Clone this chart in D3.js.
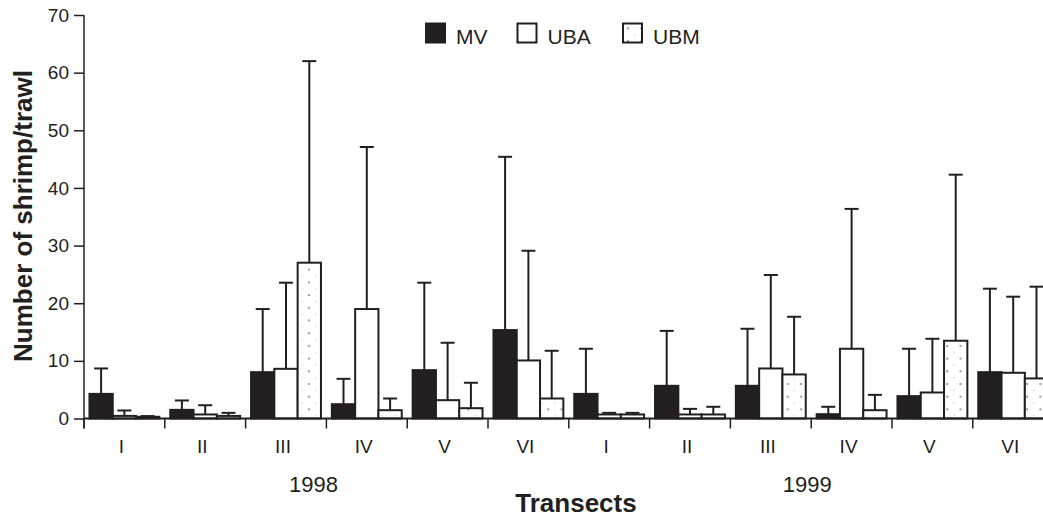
<!DOCTYPE html>
<html><head><meta charset="utf-8">
<script src="https://cdn.jsdelivr.net/npm/d3@7"></script>
<style>
html,body{margin:0;padding:0;background:#fff;}
svg text{font-family:"Liberation Sans",Arial,Helvetica,sans-serif;fill:#231f20;}
</style></head>
<body><svg id="c" width="1043" height="520"></svg>
<script>
const transects = ["I","II","III","IV","V","VI","I","II","III","IV","V","VI"];
const years = ["1998","1999"];
const series = ["MV","UBA","UBM"];
const mv     = [4.27,1.5,8.04,2.48,8.39,15.34,4.27,5.67,5.67,0.75,3.88,8.04];
const mvUp   = [8.68,3.13,18.99,6.88,23.56,45.4,12.1,15.2,15.57,2.03,12.1,22.52];
const uba    = [0.45,0.7,8.62,18.99,3.18,10.07,0.7,0.7,8.68,12.1,4.51,7.93];
const ubaUp  = [1.39,2.3,23.56,47.1,13.14,29.1,0.98,1.67,24.9,36.36,13.83,21.13];
const ubm    = [0.3,0.45,27.03,1.44,1.79,3.47,0.7,0.7,7.64,1.44,13.49,6.95];
const ubmUp  = [0.42,0.98,62.0,3.47,6.2,11.75,0.98,2.03,17.65,4.1,42.3,22.87];
const yTicks = [0,10,20,30,40,50,60,70];

const ink = "#231f20";
const svg = d3.select("#c");
const defs = svg.append("defs");
const pat = defs.append("pattern").attr("id","dots").attr("patternUnits","userSpaceOnUse")
  .attr("width",13.3).attr("height",12.7);
pat.append("rect").attr("width",13.3).attr("height",12.7).attr("fill","#fff");
pat.append("circle").attr("cx",3).attr("cy",3).attr("r",1.1).attr("fill","#8a8a8a");
pat.append("circle").attr("cx",9.65).attr("cy",9.35).attr("r",0.6).attr("fill","#aaa");

const keys = transects.map((d,i)=>i);
const x0 = d3.scaleBand().domain(keys).range([84, 84 + 12*80.8]).padding(0);
const x1 = d3.scaleBand().domain(series).range([0, x0.bandwidth()]).paddingInner(0).paddingOuter(0.234);
const y = d3.scaleLinear().domain([0,70]).range([418.5, 15]);

const vals = {MV:mv, UBA:uba, UBM:ubm};
const ups = {MV:mvUp, UBA:ubaUp, UBM:ubmUp};
const fills = {MV:ink, UBA:"#fff", UBM:"url(#dots)"};

const rows = [];
keys.forEach(i => series.forEach(s => rows.push({i, s, v: vals[s][i], u: ups[s][i]})));

// error bars (behind bars)
const eg = svg.append("g").attr("stroke", ink).attr("stroke-width", 2).attr("fill","none");
rows.forEach(r => {
  const cx = x0(r.i) + x1(r.s) + x1.bandwidth()/2;
  eg.append("line").attr("x1",cx).attr("x2",cx).attr("y1",y(r.v)).attr("y2",y(r.u));
  eg.append("line").attr("x1",cx-7).attr("x2",cx+7).attr("y1",y(r.u)).attr("y2",y(r.u));
});

// bars
svg.append("g").selectAll("rect").data(rows).join("rect")
  .attr("x", d => x0(d.i) + x1(d.s))
  .attr("y", d => y(d.v))
  .attr("width", x1.bandwidth())
  .attr("height", d => y(0) - y(d.v))
  .attr("fill", d => fills[d.s])
  .attr("stroke", ink).attr("stroke-width", 2);

// y axis
const ya = svg.append("g").attr("transform","translate(84,0)")
  .call(d3.axisLeft(y).tickValues(yTicks).tickSize(10).tickPadding(5).tickSizeOuter(0));
ya.select(".domain").remove();
ya.selectAll(".tick line").attr("stroke", ink).attr("stroke-width",1.5);
ya.selectAll("text").attr("font-size",19).attr("font-family","Liberation Sans, Arial, sans-serif").attr("fill",ink);
svg.append("line").attr("x1",84).attr("x2",84).attr("y1",y(70)).attr("y2",428.5)
  .attr("stroke",ink).attr("stroke-width",1.5);

// x axis line and ticks
svg.append("line").attr("x1",84).attr("x2",1043).attr("y1",y(0)).attr("y2",y(0))
  .attr("stroke",ink).attr("stroke-width",1.8);
svg.append("g").selectAll("line").data(keys).join("line")
  .attr("x1", d => x0(d)).attr("x2", d => x0(d))
  .attr("y1", y(0)).attr("y2", 428.5)
  .attr("stroke", ink).attr("stroke-width",1.5);

svg.append("g").selectAll("text").data(keys).join("text")
  .attr("x", d => x0(d) + x0.bandwidth()/2 - 3)
  .attr("y", 453)
  .attr("text-anchor","middle").attr("font-size",19)
  .text(d => transects[d]);

// years
years.forEach((yr, k) => {
  const a = x0(k*6), b = x0(k*6+5) + x0.bandwidth();
  svg.append("text").attr("x", (a+b)/2 + (k===0 ? -13 : -4)).attr("y", 491.5)
    .attr("text-anchor","middle").attr("font-size",22).text(yr);
});

// axis titles
svg.append("text").attr("x",576).attr("y",512).attr("text-anchor","middle")
  .attr("font-size",26).attr("font-weight","bold").text("Transects");
svg.append("text").attr("transform","translate(32,216) rotate(-90)").attr("text-anchor","middle")
  .attr("font-size",26).attr("font-weight","bold").text("Number of shrimp/trawl");

// legend
const legX = [426, 517.5, 623];
series.forEach((s, k) => {
  svg.append("rect").attr("x", legX[k]).attr("y", 23.5).attr("width",19).attr("height",19)
    .attr("fill", fills[s]).attr("stroke", ink).attr("stroke-width",2);
  svg.append("text").attr("x", legX[k] + 30).attr("y", 44.3).attr("font-size",21).text(s);
});
</script></body></html>
